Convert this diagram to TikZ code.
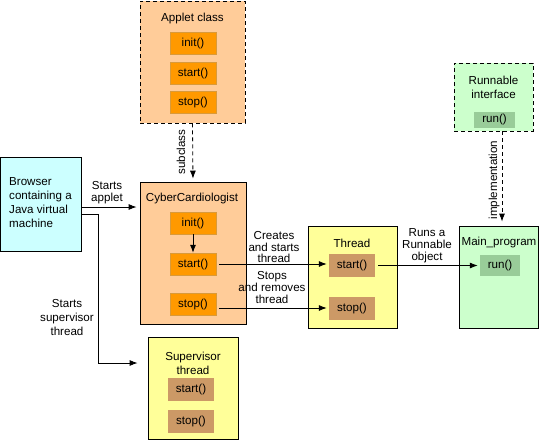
\documentclass[tikz,border=0pt]{standalone}
\usepackage{fontspec}
\setmainfont{Liberation Sans}
\usetikzlibrary{arrows.meta}
\definecolor{peach}{HTML}{FFCC99}
\definecolor{orangem}{HTML}{FF9900}
\definecolor{orangeb}{HTML}{D99A3A}
\definecolor{paleyel}{HTML}{FFFF99}
\definecolor{tanm}{HTML}{CC9966}
\definecolor{palegrn}{HTML}{CCFFCC}
\definecolor{grnm}{HTML}{99CC99}
\definecolor{palecyan}{HTML}{CCFFFF}
\tikzset{
  classbox/.style={draw,line width=0.8pt,inner sep=0pt},
  dashedbox/.style={classbox,dash pattern=on 4pt off 3pt},
  title/.style={font=\fontsize{11.6}{14}\selectfont,align=center,inner sep=0pt},
  flow/.style={-{Latex[length=8pt,width=6pt]},line width=0.8pt},
  note/.style={font=\fontsize{11.6}{12}\selectfont,align=center,inner sep=0pt}
}
\begin{document}
\begin{tikzpicture}[x=1pt,y=-1pt]
      \useasboundingbox (0,0) rectangle (541,440);
      \begin{scope}
        \node[dashedbox,fill=peach,minimum width=105pt,minimum height=122pt] (applet) at (192.5,62) {};
        \node[title] (applett) at (192.5,18) {Applet class};
        \begin{scope}[every node/.style={fill=orangem,draw=orangeb,line width=0.5pt,minimum width=46pt,minimum height=22pt,inner sep=0pt,font=\fontsize{11.6}{14}\selectfont}]
          \node (ainit) at (193,43) {init()};
          \node (astart) at (193,73) {start()};
          \node (astop) at (193,102) {stop()};
        \end{scope}
      \end{scope}
      \begin{scope}
        \node[classbox,fill=peach,minimum width=106pt,minimum height=142pt] (cyber) at (193,253) {};
        \node[title] (cybert) at (192,198) {CyberCardiologist};
        \begin{scope}[every node/.style={fill=orangem,draw=orangeb,line width=0.5pt,minimum width=46pt,minimum height=22pt,inner sep=0pt,font=\fontsize{11.6}{14}\selectfont}]
          \node (cinit) at (193,223) {init()};
          \node (cstart) at (193,264) {start()};
          \node (cstop) at (193,304) {stop()};
        \end{scope}
      \end{scope}
      \node[classbox,fill=palecyan,minimum width=81pt,minimum height=94pt] (browser) at (41,204) {};
      \node[title,align=left,anchor=west] (browsert) at (9,203) {Browser\\containing a\\Java virtual\\machine};
      \begin{scope}
        \node[classbox,fill=paleyel,minimum width=90pt,minimum height=102pt] (superv) at (193,388) {};
        \node[title] (supervt) at (193,363) {Supervisor\\thread};
        \begin{scope}[every node/.style={fill=tanm,minimum width=46pt,minimum height=23pt,inner sep=0pt,font=\fontsize{11.6}{14}\selectfont}]
          \node (sstart) at (191,389.5) {start()};
          \node (sstop) at (191,421.5) {stop()};
        \end{scope}
      \end{scope}
      \begin{scope}
        \node[classbox,fill=paleyel,minimum width=89pt,minimum height=102pt] (thread) at (352.5,277) {};
        \node[title] (threadt) at (352,243) {Thread};
        \begin{scope}[every node/.style={fill=tanm,minimum width=46pt,minimum height=23pt,inner sep=0pt,font=\fontsize{11.6}{14}\selectfont}]
          \node (tstart) at (352,265.5) {start()};
          \node (tstop) at (352,308) {stop()};
        \end{scope}
      \end{scope}
      \begin{scope}
        \node[classbox,fill=palegrn,minimum width=79pt,minimum height=102pt] (mainp) at (498.5,277) {};
        \node[title] (mainpt) at (499,242) {Main\_program};
        \node[fill=grnm,minimum width=40pt,minimum height=21pt,inner sep=0pt,font=\fontsize{11.6}{14}\selectfont] (mrun) at (500,265.5) {run()};
      \end{scope}
      \begin{scope}
        \node[dashedbox,fill=palegrn,minimum width=79pt,minimum height=68pt] (runnable) at (493.5,97) {};
        \node[title] (runnablet) at (493.5,87) {Runnable\\interface};
        \node[fill=grnm,minimum width=41pt,minimum height=16pt,inner sep=0pt,font=\fontsize{11.6}{14}\selectfont] (rrun) at (494.5,119.5) {run()};
      \end{scope}
      \begin{scope}[every node/.style={note}]
        \node (lsub) at (181,152) {\rotatebox{90}{subclass}};
        \node (limpl) at (494,180) {\rotatebox{90}{implementation}};
        \node (lapplet) at (107,193) {Starts\\applet};
        \node[font=\fontsize{11.6}{14}\selectfont] (lsuper) at (67,317) {Starts\\supervisor\\thread};
        \node (lcreate) at (274,247) {Creates\\and starts\\thread};
        \node (lstops) at (272,287) {Stops\\and removes\\thread};
        \node (lruns) at (427,246) {Runs a\\Runnable\\object};
      \end{scope}
      \coordinate (bend) at (98,214);
      \coordinate (impl) at (502,131);
      \draw[flow,dash pattern=on 4pt off 3pt,shorten >=3pt] (applet.south) -- (cyber.north);
      \draw[flow,dash pattern=on 4pt off 3pt,shorten >=4pt] (impl) -- (impl |- mainp.north);
      \draw[flow] (cinit.south) -- (cstart.north);
      \draw[flow,shorten >=3pt] ([yshift=-3pt]browser.east) -- ([yshift=-3pt]browser.east -| cyber.west);
      \draw[flow,shorten >=10pt] (browser.east |- bend) -- (bend) |- (supervt -| superv.west);
      \draw[flow,shorten <=3pt,shorten >=2pt] (cstart.east) -- (cstart.east -| tstart.west);
      \draw[flow,shorten <=3pt,shorten >=2pt] (tstop.west -| cstop.east) -- (tstop.west);
      \draw[flow,shorten <=3pt,shorten >=2pt] (tstart.east) -- (mrun.west);
    \end{tikzpicture}
\end{document}
